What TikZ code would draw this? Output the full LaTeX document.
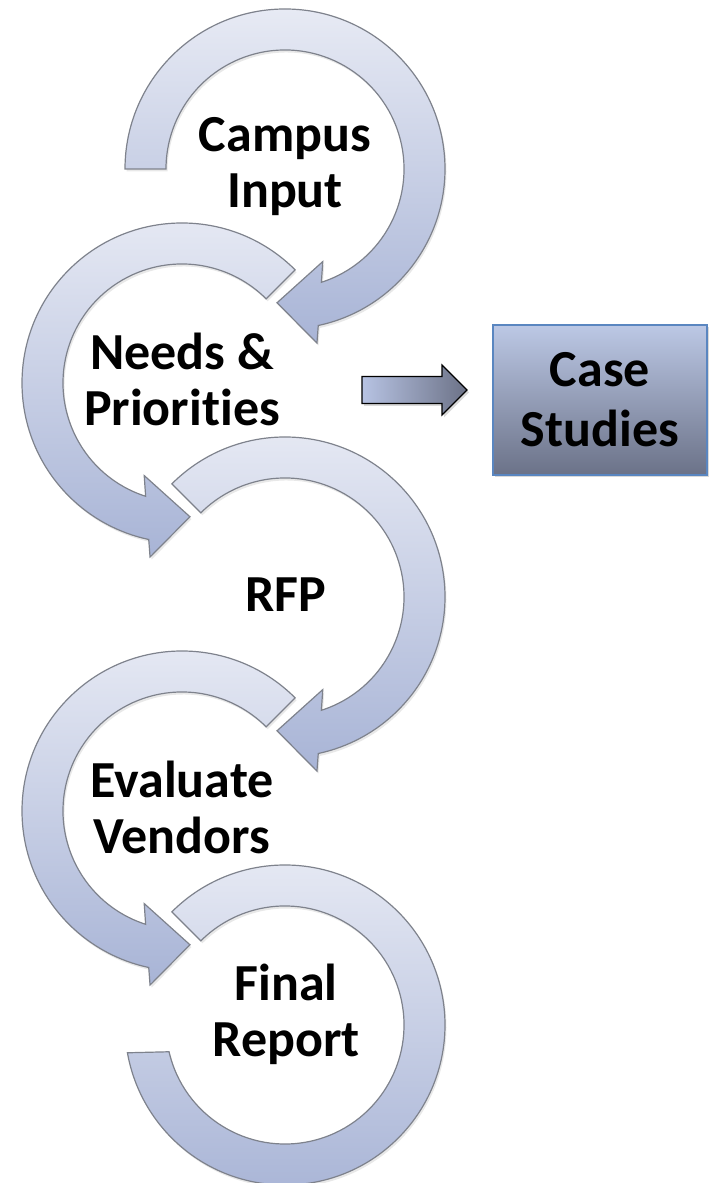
\documentclass[tikz,border=0pt]{standalone}
\usepackage{fontspec}
\setmainfont{Carlito}[RawFeature={-liga;-calt}]
\usetikzlibrary{shadows}
\definecolor{ringtop}{HTML}{E7EAF4}
\definecolor{ringmid}{HTML}{D3D9EC}
\definecolor{ringbot}{HTML}{A8B4D6}
\definecolor{ringline}{HTML}{7E828C}
\definecolor{boxtop}{HTML}{BCC8E5}
\definecolor{boxbot}{HTML}{6B7288}
\definecolor{boxline}{HTML}{5A86C0}
\definecolor{arrleft}{HTML}{B7C3E3}
\definecolor{arrright}{HTML}{6C7287}
\tikzset{
  ring/.style={draw=ringline, line width=1.2pt, top color=ringtop, middle color=ringmid, bottom color=ringbot, line join=miter,
    drop shadow={opacity=0.18, shadow xshift=1.5pt, shadow yshift=-2.5pt}},
  lbl/.style={font=\bfseries\fontsize{52}{56}\selectfont, align=center, inner sep=0pt, text=black},
  casebox/.style={draw=boxline, line width=1.4pt, top color=boxtop, bottom color=boxbot,
    minimum width=214pt, minimum height=150pt, inner sep=0pt, align=center,
    font=\bfseries\fontsize{52}{60}\selectfont,
    drop shadow={opacity=0.3, shadow xshift=2pt, shadow yshift=-2.5pt}},
  blockarrow/.style={draw=black, line width=1.2pt, left color=arrleft, right color=arrright,
    drop shadow={opacity=0.3, shadow xshift=2pt, shadow yshift=-2.5pt}},
}
% clockwise ring arrow ending at the bottom: #1 centre, #2 start angle
\newcommand\cwring[2]{%
  \path[ring] ([shift={(#2:160)}]#1) arc[start angle=#2, end angle=-78, radius=160]
    -- ([shift={(-79.6:177)}]#1) -- ([shift={(-93.4:134)}]#1)
    -- ([shift={(-67.8:100)}]#1) -- ([shift={(-72.2:119)}]#1)
    arc[start angle=-72.2, end angle=#2, radius=119] -- cycle;}
% counter-clockwise ring arrow ending at the bottom
\newcommand\ccwring[2]{%
  \path[ring] ([shift={(#2:160)}]#1) arc[start angle=#2, end angle=258, radius=160]
    -- ([shift={(259.6:177)}]#1) -- ([shift={(273.4:134)}]#1)
    -- ([shift={(247.8:100)}]#1) -- ([shift={(252.2:119)}]#1)
    arc[start angle=252.2, end angle=#2, radius=119] -- cycle;}
\begin{document}
\begin{tikzpicture}[x=1pt,y=1pt]
\useasboundingbox (0,0) rectangle (709,1183);
\coordinate (c1) at (285,1014);
\coordinate (c2) at (182,800);
\coordinate (c3) at (285,586);
\coordinate (c4) at (182,372);
\coordinate (c5) at (285,158);

\cwring{c1}{180}
\ccwring{c2}{45}
\cwring{c3}{135}
\ccwring{c4}{45}
\path[ring] ([shift={(135:160)}]c5) arc[start angle=135, end angle=-170, radius=160]
  -- ([shift={(-167:119)}]c5) arc[start angle=-167, end angle=135, radius=119] -- cycle;

\node[lbl] (campus) at (285,1016) {Campus\\Input};
\node[lbl] (needs) at (182,804) {Needs \&\\Priorities};
\node[lbl] (rfp) at (286,588.5) {RFP};
\node[lbl] (evaluate) at (182,376) {Evaluate\\Vendors};
\node[lbl] (report) at (286,169) {Final\\Report};

\node[casebox] (case) at (600,783) {Case\\Studies};

\coordinate (ba) at (362,793);
\path[blockarrow] (ba) ++(0,-13.5) -- ++(80,0) -- ++(0,-11.5) -- ++(25,25) -- ++(-25,25)
  -- ++(0,-11.5) -- ++(-80,0) -- cycle;
\end{tikzpicture}
\end{document}
